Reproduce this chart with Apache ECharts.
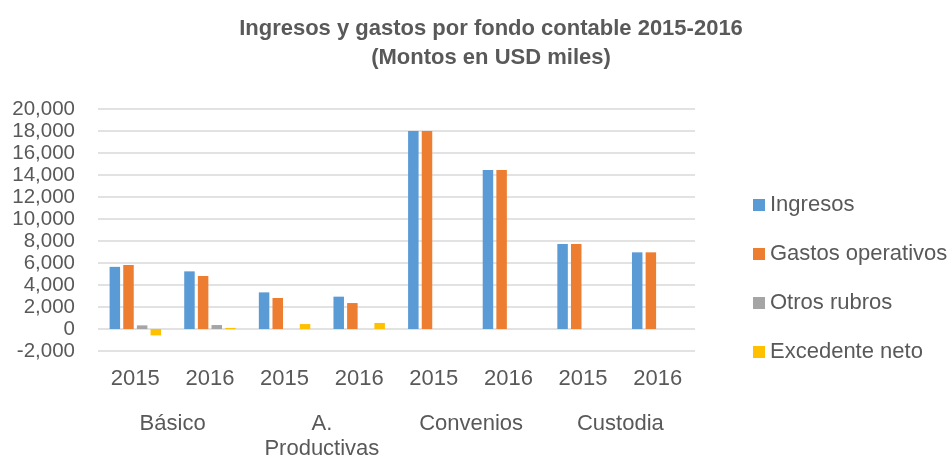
<!DOCTYPE html>
<html>
<head>
<meta charset="utf-8">
<script src="https://cdn.jsdelivr.net/npm/echarts@6/dist/echarts.min.js"></script>
<style>
  html, body { margin: 0; padding: 0; background: #fff; }
  #chart { width: 952px; height: 459px; }
</style>
</head>
<body>
<div id="chart"></div>
<script>
const years = ['2015', '2016', '2015', '2016', '2015', '2016', '2015', '2016'];
const funds = ['Básico', 'A.\nProductivas', 'Convenios', 'Custodia'];
const seriesNames = ['Ingresos', 'Gastos operativos', 'Otros rubros', 'Excedente neto'];
const ingresos = [5650, 5240, 3330, 2940, 18000, 14450, 7730, 6970];
const gastos = [5820, 4820, 2820, 2360, 18000, 14450, 7730, 6970];
const otros = [330, 360, 0, 0, 0, 0, 0, 0];
const excedente = [-580, 100, 450, 550, 0, 0, 0, 0];
const colors = ['#5B9BD5', '#ED7D31', '#A5A5A5', '#FFC000'];

const textColor = '#595959';
const font = 'Liberation Sans, Arial, sans-serif';

const chart = echarts.init(document.getElementById('chart'));

const values = [ingresos, gastos, otros, excedente];
const series = seriesNames.map((name, i) => ({
  name,
  type: 'bar',
  xAxisIndex: 0,
  data: values[i],
  barWidth: 10.5,
  barGap: '30%',
  itemStyle: { color: colors[i] }
}));

chart.setOption({
  animation: false,
  color: colors,
  title: {
    text: 'Ingresos y gastos por fondo contable 2015-2016\n(Montos en USD miles)',
    left: 491,
    top: 14,
    padding: 0,
    textAlign: 'center',
    textStyle: {
      fontFamily: font,
      fontSize: 22,
      fontWeight: 'bold',
      color: textColor,
      lineHeight: 29
    }
  },
  legend: {
    orient: 'vertical',
    left: 748,
    top: 189,
    itemWidth: 12,
    itemHeight: 12,
    itemGap: 27,
    icon: 'rect',
    textStyle: { fontFamily: font, fontSize: 22, color: textColor }
  },
  grid: { left: 98, right: 257, top: 109, bottom: 108, outerBoundsMode: 'none', containLabel: false },
  xAxis: [
    {
      type: 'category',
      position: 'bottom',
      data: years,
      axisLine: { show: false },
      axisTick: { show: false },
      axisLabel: { interval: 0, margin: 17, fontFamily: font, fontSize: 22, color: textColor }
    },
    {
      type: 'category',
      position: 'bottom',
      data: funds,
      offset: 43,
      axisLine: { show: false },
      axisTick: { show: false },
      axisLabel: { interval: 0, margin: 17, fontFamily: font, fontSize: 22, color: textColor, lineHeight: 25 }
    }
  ],
  yAxis: {
    type: 'value',
    min: -2000,
    max: 20000,
    interval: 2000,
    axisLine: { show: false },
    axisTick: { show: false },
    splitLine: { lineStyle: { color: '#d9d9d9', width: 1.5 } },
    axisLabel: {
      margin: 23,
      fontFamily: font,
      fontSize: 20.5,
      color: textColor,
      formatter: v => v.toLocaleString('en-US')
    }
  },
  series
});
</script>
</body>
</html>
